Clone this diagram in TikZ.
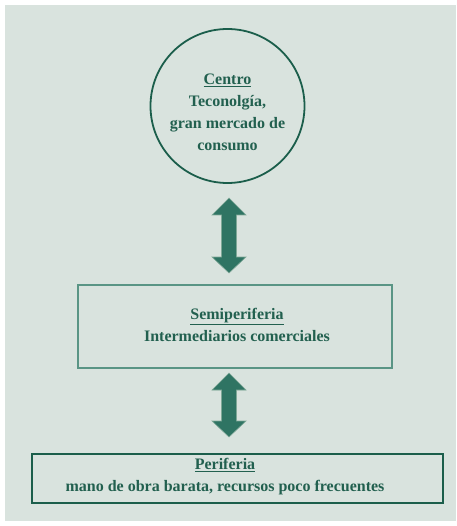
\documentclass[tikz,border=0pt]{standalone}
\usepackage{fontspec}
\setmainfont{Liberation Serif}
\definecolor{bgc}{HTML}{D9E3DE}
\definecolor{dgreen}{HTML}{1B5E4B}
\definecolor{tgreen}{HTML}{22604F}
\definecolor{lgreen}{HTML}{5A9585}
\definecolor{agreen}{HTML}{2F7463}
\definecolor{aedge}{HTML}{7FA897}
\begin{document}
\begin{tikzpicture}[x=1pt,y=-1pt,
  lbl/.style={text=tgreen,font=\fontsize{16}{22}\selectfont\bfseries,align=center,inner sep=0pt},
  bigarrow/.style={fill=agreen,draw=aedge,line width=0.6pt,line join=miter}]
\useasboundingbox (0,0) rectangle (456,526);
\fill[white] (0,0) rectangle (456,526);
\fill[bgc] (5,5) rectangle (456,521);
% centro
\node[circle,draw=dgreen,line width=1.8pt,minimum size=154pt,inner sep=0pt] (centro) at (227.5,106) {};
\node[lbl] (centrot) at (227.5,112) {\underline{Centro}\\Teconolgía,\\gran mercado de\\consumo};
% semiperiferia
\node[draw=lgreen,line width=1.5pt,minimum width=314pt,minimum height=83pt,inner sep=0pt] (semi) at (235,326.5) {};
\node[lbl] (semit) at (237,325) {\underline{Semiperiferia}\\Intermediarios comerciales};
% periferia
\node[draw=dgreen,line width=2.5pt,minimum width=411pt,minimum height=49pt,inner sep=0pt] (peri) at (237.5,478.5) {};
\node[lbl] (perit) at (225,477) {\underline{Periferia}\\mano de obra barata, recursos poco frecuentes};
% arrows
\coordinate (a1) at (229,198);
\draw[bigarrow] (a1) -- ++(17,17) -- ++(-9.5,0) -- ++(0,42) -- ++(9.5,0) -- ++(-17,16) -- ++(-17,-16) -- ++(9.5,0) -- ++(0,-42) -- ++(-9.5,0) -- cycle;
\coordinate (a2) at (229,373);
\draw[bigarrow] (a2) -- ++(17,17) -- ++(-9.5,0) -- ++(0,31) -- ++(9.5,0) -- ++(-17,16) -- ++(-17,-16) -- ++(9.5,0) -- ++(0,-31) -- ++(-9.5,0) -- cycle;
\end{tikzpicture}
\end{document}
